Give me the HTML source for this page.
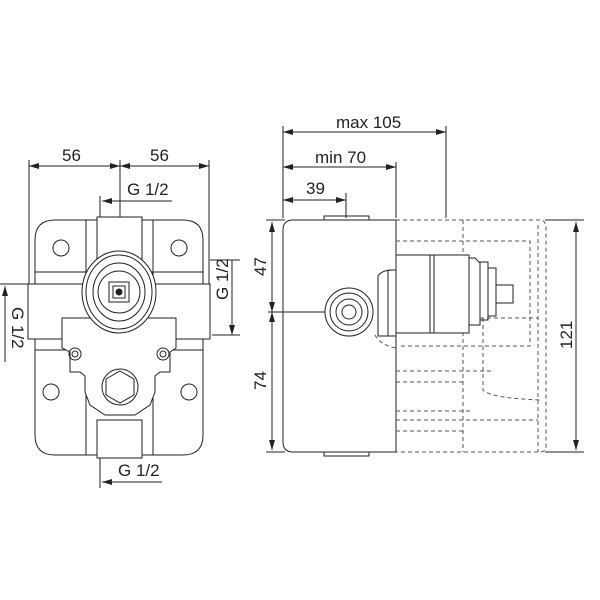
<!DOCTYPE html>
<html><head><meta charset="utf-8"><style>
html,body{margin:0;padding:0;background:#fff;}
svg{display:block}
text{font-family:"Liberation Sans Narrow","Liberation Sans",sans-serif;font-size:17px;fill:#222}
</style></head><body>
<svg width="600" height="600" viewBox="0 0 600 600" xmlns="http://www.w3.org/2000/svg">
<defs>
<marker id="a" viewBox="0 0 10 6" refX="10" refY="3" markerWidth="10" markerHeight="6" orient="auto-start-reverse"><path d="M0,0 L10,3 L0,6 z" fill="#222"/></marker>
</defs>
<g stroke="#222" fill="none" stroke-width="1">
<!-- LEFT VIEW dims -->
<line x1="29" y1="160" x2="29" y2="285"/>
<line x1="120" y1="160" x2="120" y2="218"/>
<line x1="209" y1="160" x2="209" y2="285"/>
<line x1="29" y1="166" x2="120" y2="166" marker-start="url(#a)" marker-end="url(#a)"/>
<line x1="120" y1="166" x2="209" y2="166" marker-start="url(#a)" marker-end="url(#a)"/>
<line x1="100" y1="196" x2="100" y2="217"/>
<line x1="102" y1="201" x2="172" y2="201" marker-start="url(#a)"/>
<line x1="100" y1="455" x2="100" y2="488"/>
<line x1="102" y1="482" x2="162" y2="482" marker-start="url(#a)"/>
<line x1="210" y1="260" x2="240" y2="260"/>
<line x1="212" y1="335" x2="240" y2="335"/>
<line x1="232" y1="260" x2="232" y2="335" marker-end="url(#a)"/>
<line x1="0" y1="284" x2="28" y2="284"/>
<line x1="5" y1="286" x2="5" y2="362" marker-start="url(#a)"/>
<!-- plate -->
<path d="M55,220 H183 Q203,220 203,240 V435 Q203,455 183,455 H55 Q35,455 35,435 V240 Q35,220 55,220 Z"/>
<line x1="86" y1="220" x2="86" y2="455"/><line x1="153" y1="220" x2="153" y2="455"/>
<line x1="35" y1="272" x2="203" y2="272"/><line x1="35" y1="350" x2="203" y2="350"/>
<rect x="97" y="217" width="45" height="48" fill="#fff"/>
<rect x="28" y="284" width="182" height="55" fill="#fff"/>
<rect x="97" y="420" width="45" height="38" fill="#fff"/>
<circle cx="61" cy="248" r="8"/><circle cx="179" cy="248" r="8"/>
<circle cx="51" cy="392" r="8"/><circle cx="189" cy="392" r="8"/>
<!-- lower body -->
<path d="M62,318 H176 V348 L170,352 V372 H160 L155,376 V392 L150,405 L135,415 H105 L90,405 L85,392 V376 L80,372 H70 V352 L62,348 Z" fill="#fff"/>
<circle cx="75" cy="354" r="6"/><circle cx="75" cy="354" r="3"/>
<circle cx="163" cy="354" r="6"/><circle cx="163" cy="354" r="3"/>
<circle cx="120" cy="387" r="18"/>
<polygon points="120,371 134,379 134,395 120,403 106,395 106,379"/>
<!-- valve -->
<ellipse cx="119" cy="292" rx="37" ry="41" fill="#fff"/>
<ellipse cx="119" cy="292" rx="33" ry="37"/>
<ellipse cx="119" cy="292" rx="26" ry="29"/>
<circle cx="119" cy="292" r="21"/>
<rect x="109" y="282" width="20" height="20"/>
<rect x="113" y="286" width="12" height="12"/>
<circle cx="119" cy="292" r="3" fill="#222"/>
</g>
<text x="62" y="161">56</text><text x="150" y="161">56</text>
<text x="127" y="195">G 1/2</text>
<text x="118" y="476">G 1/2</text>
<text transform="translate(228,300) rotate(-90)">G 1/2</text>
<text transform="translate(12,307) rotate(90)">G 1/2</text>

<g stroke="#222" fill="none" stroke-width="1">
<!-- RIGHT VIEW dims -->
<line x1="283" y1="126" x2="283" y2="218"/>
<line x1="396" y1="162" x2="396" y2="218"/>
<line x1="446" y1="126" x2="446" y2="218"/>
<line x1="346" y1="193" x2="346" y2="218"/>
<line x1="283" y1="132" x2="446" y2="132" marker-start="url(#a)" marker-end="url(#a)"/>
<line x1="283" y1="167" x2="396" y2="167" marker-start="url(#a)" marker-end="url(#a)"/>
<line x1="283" y1="200" x2="346" y2="200" marker-start="url(#a)" marker-end="url(#a)"/>
<line x1="266" y1="220" x2="285" y2="220"/><line x1="266" y1="452" x2="285" y2="452"/>
<line x1="272" y1="222" x2="272" y2="312" marker-start="url(#a)" marker-end="url(#a)"/>
<line x1="272" y1="312" x2="272" y2="450" marker-start="url(#a)" marker-end="url(#a)"/>
<line x1="268" y1="312" x2="326" y2="312"/>
<line x1="545" y1="220" x2="584" y2="220"/><line x1="545" y1="452" x2="584" y2="452"/>
<line x1="576" y1="222" x2="576" y2="450" marker-start="url(#a)" marker-end="url(#a)"/>
<!-- box -->
<path d="M293,220 H396 V452 H293 Q283,452 283,442 V230 Q283,220 293,220 Z"/>
<rect x="324" y="216" width="45" height="4"/>
<rect x="324" y="452" width="45" height="4"/>
<!-- dashed -->
<g stroke-dasharray="4,3" stroke="#555">
<path d="M396,220 H540 Q546,220 546,228 V446 Q546,452 540,452 H396"/>
<path d="M396,241 H530 V346 H400"/>
<line x1="463" y1="220" x2="463" y2="452"/>
<line x1="538" y1="225" x2="538" y2="452"/>
<line x1="396" y1="371" x2="493" y2="371"/>
<line x1="396" y1="382" x2="463" y2="382"/>
<line x1="396" y1="411" x2="470" y2="411"/>
<line x1="396" y1="420" x2="538" y2="420"/>
<line x1="396" y1="431" x2="463" y2="431"/>
<path d="M483,318 V390 Q490,398 540,400"/>
<line x1="480" y1="318" x2="538" y2="318"/>
<path d="M375,335 Q380,345 396,348"/>
</g>
<!-- cartridge -->
<rect x="396" y="255" width="73" height="78" fill="#fff"/>
<line x1="430" y1="255" x2="430" y2="333"/>
<line x1="434" y1="255" x2="434" y2="333"/>
<path d="M469,258 H475 L480,263 V325 H469"/>
<rect x="480" y="262" width="8" height="58"/>
<rect x="488" y="268" width="8" height="48"/>
<rect x="496" y="285" width="17" height="18"/>
<path d="M378,276 Q382,270 392,270 H396 V336 H378 Z" fill="#fff"/>
<line x1="388" y1="270" x2="388" y2="336"/>
<!-- knob -->
<circle cx="349" cy="312" r="24" fill="#fff"/>
<circle cx="349" cy="312" r="19"/>
<circle cx="349" cy="312" r="13"/>
<circle cx="349" cy="312" r="7"/>
</g>
<text x="336" y="128">max 105</text>
<text x="315" y="163">min 70</text>
<text x="306" y="194">39</text>
<text transform="translate(266,276) rotate(-90)">47</text>
<text transform="translate(266,390) rotate(-90)">74</text>
<text transform="translate(572,349) rotate(-90)">121</text>
</svg>
</body></html>
